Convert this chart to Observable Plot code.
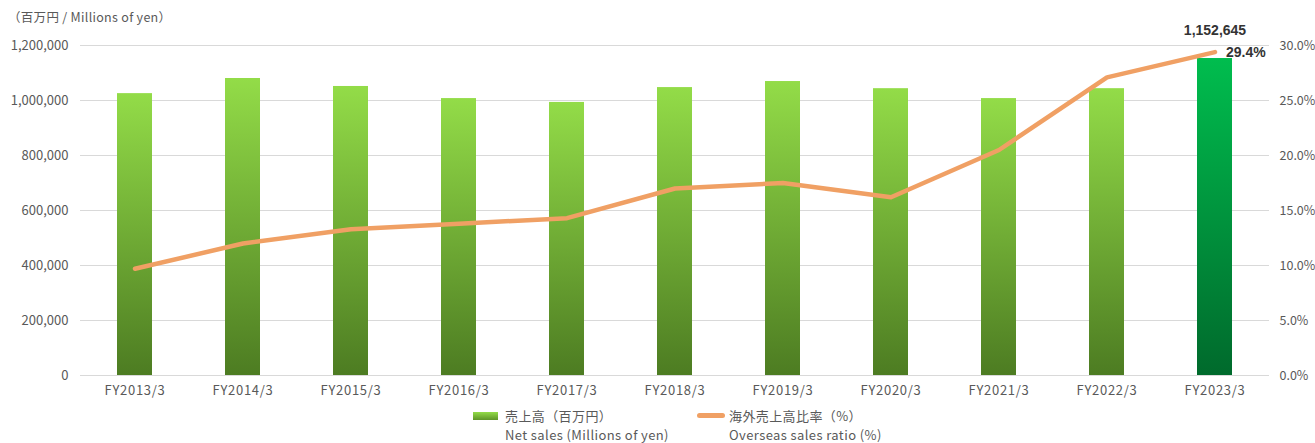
<!DOCTYPE html>
<html><head><meta charset="utf-8">
<script src="https://cdn.jsdelivr.net/npm/d3@7"></script>
<script src="https://cdn.jsdelivr.net/npm/@observablehq/plot@0.6"></script>
<style>
body{margin:0;background:#fff;font-family:"Noto Sans CJK JP","Noto Sans",sans-serif;color:#595959}
#wrap{position:relative;width:1315px;height:443px;overflow:hidden}
#unit{position:absolute;left:8px;top:7px;font-size:12.5px;line-height:20px;color:#595959;white-space:nowrap;letter-spacing:0.3px}
#chart{position:absolute;left:0;top:0}
.lg{position:absolute;font-size:13px;line-height:16px;color:#595959;white-space:nowrap;letter-spacing:0.4px}
.sw{position:absolute}
</style></head><body><div id="wrap">
<div id="chart"></div>
<div id="unit">（百万円 / Millions of yen）</div>
<div class="sw" style="left:473px;top:412px;width:25px;height:8px;background:linear-gradient(#93dc48,#5e9428)"></div>
<div class="lg" style="left:505px;top:408px">売上高（百万円）</div>
<div class="lg" style="left:505px;top:427px">Net sales (Millions of yen)</div>
<div class="sw" style="left:697px;top:413px;width:28px;height:5px;border-radius:3px;background:#f0a064"></div>
<div class="lg" style="left:729px;top:408px">海外売上高比率（%）</div>
<div class="lg" style="left:729px;top:427px">Overseas sales ratio (%)</div>
</div>
<script>
const years = ["FY2013/3","FY2014/3","FY2015/3","FY2016/3","FY2017/3","FY2018/3","FY2019/3","FY2020/3","FY2021/3","FY2022/3","FY2023/3"];
const netSales = [1025000,1080000,1051000,1007000,993000,1047000,1069000,1043000,1007000,1043000,1152645];
const overseasRatio = [9.7,12.0,13.3,13.8,14.3,17.0,17.5,16.2,20.5,27.1,29.4];
const leftTicks = [0,200000,400000,600000,800000,1000000,1200000];
const rightTicks = [0,5,10,15,20,25,30];
const salesMax = 1200000, ratioMax = 30;
const k = salesMax / ratioMax;

const data = years.map((y,i)=>({year:y, sales:netSales[i], ratio:overseasRatio[i], rv:overseasRatio[i]*k, last:i===years.length-1}));
const lastD = data[data.length-1];

function defs(){
  const d = d3.create("svg:defs");
  const g1 = d.append("linearGradient").attr("id","gGreen").attr("x1",0).attr("y1",0).attr("x2",0).attr("y2",1);
  g1.append("stop").attr("offset","0%").attr("stop-color","#93dc48");
  g1.append("stop").attr("offset","100%").attr("stop-color","#4d7c22");
  const g2 = d.append("linearGradient").attr("id","gDark").attr("x1",0).attr("y1",0).attr("x2",0).attr("y2",1);
  g2.append("stop").attr("offset","0%").attr("stop-color","#00bd4e");
  g2.append("stop").attr("offset","100%").attr("stop-color","#006a2c");
  return d.node();
}

const labelFont = "'Liberation Sans','Arial',sans-serif";
const chart = Plot.plot({
  width:1315, height:443,
  marginTop:45, marginBottom:68, marginLeft:80, marginRight:46,
  style:{fontFamily:"'Noto Sans CJK JP','Noto Sans',sans-serif", fontSize:"13px", color:"#595959", background:"transparent"},
  x:{domain:years, paddingInner:0.68, paddingOuter:0.34, label:null},
  y:{domain:[0,salesMax], label:null},
  marks:[
    defs,
    Plot.ruleY(leftTicks,{stroke:"#d9d9d9", strokeWidth:1}),
    Plot.barY(data.filter(d=>!d.last),{x:"year", y:"sales", fill:"url(#gGreen)"}),
    Plot.barY(data.filter(d=>d.last),{x:"year", y:"sales", fill:"url(#gDark)"}),
    Plot.line(data,{x:"year", y:"rv", stroke:"#f0a064", strokeWidth:4.5, strokeLinecap:"round", strokeLinejoin:"round"}),
    Plot.axisY(leftTicks,{anchor:"left", tickSize:0, tickPadding:12, tickFormat:d=>d3.format(",")(d), fill:"#595959"}),
    Plot.axisY(rightTicks.map(p=>p*k),{anchor:"right", tickSize:0, tickPadding:10, fontSize:12.5, tickFormat:d=>(d/k).toFixed(1)+"%", fill:"#595959"}),
    Plot.axisX({tickSize:0, tickPadding:10, fill:"#595959"}),
    Plot.text([lastD],{x:"year", y:"sales", text:d=>d3.format(",")(d.sales), dy:-28, fill:"#333", fontWeight:"bold", fontSize:14, fontFamily:labelFont}),
    Plot.text([lastD],{x:"year", y:"rv", text:d=>d.ratio.toFixed(1)+"%", dx:11, dy:0, textAnchor:"start", fill:"#333", fontWeight:"bold", fontSize:14, fontFamily:labelFont})
  ]
});
d3.select(chart).selectAll('g[aria-label="x-axis tick label"] text').style("letter-spacing","0.7px");
document.getElementById("chart").appendChild(chart);
</script>
</body></html>
